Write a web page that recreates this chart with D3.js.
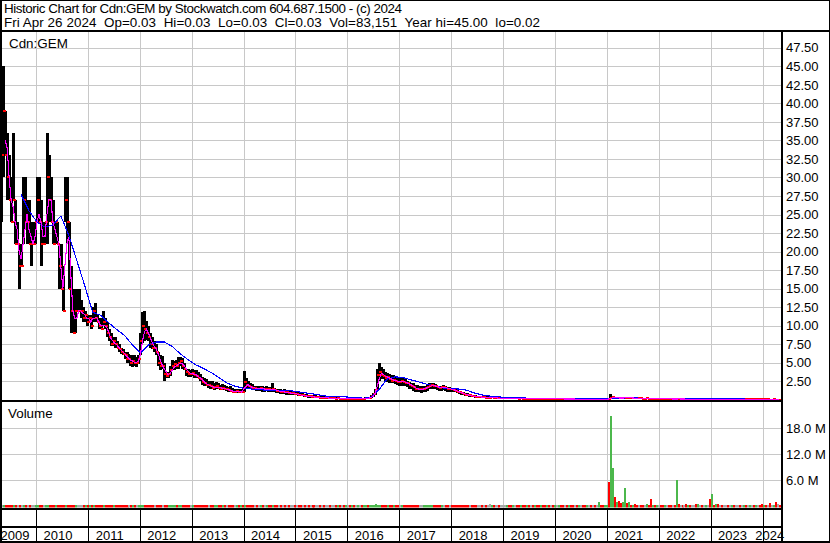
<!DOCTYPE html>
<html><head><meta charset="utf-8">
<script src="https://cdn.jsdelivr.net/npm/d3@7"></script>
<style>
html,body{margin:0;padding:0;background:#fff;}
svg{display:block;}
text{font-family:"Liberation Sans",Arial,sans-serif;fill:#000;}
</style></head><body>
<svg id="chart" width="830" height="543"></svg>
<script>
// ---- header / labels ----
const titleLine1 = "Historic Chart for Cdn:GEM by Stockwatch.com 604.687.1500 - (c) 2024";
const titleLine2 = "Fri Apr 26 2024  Op=0.03  Hi=0.03  Lo=0.03  Cl=0.03  Vol=83,151  Year hi=45.00  lo=0.02";
const symbolLabel = "Cdn:GEM";
const volumeLabel = "Volume";
const startDate = new Date(2009, 4, 1);   // first bi-weekly bar
const stepDays = 14;
const yearLabels = [2009,2010,2011,2012,2013,2014,2015,2016,2017,2018,2019,2020,2021,2022,2023,2024];
const priceTicks = [2.5,5,7.5,10,12.5,15,17.5,20,22.5,25,27.5,30,32.5,35,37.5,40,42.5,45,47.5];
const volumeTicks = [6,12,18]; // millions

// ---- bi-weekly bars (one row per year) ----
const closes = [
/*2009*/ 33,39,33,30,27,24,27,21,21,18,18,27,24,24,21,21,21,24,
/*2010*/ 27,24,21,21,24,30,27,24,21,24,21,18,15,12,27,24,15,12,9,12,12,12,12,11,11.5,10.5,
/*2011*/ 11,10,12,11,10.5,10,9.5,10.5,10,9,8.5,7.5,8,7.5,7,6.8,6.5,6.2,6,5.5,5.5,5,5.2,5,5,5.5,
/*2012*/ 8,10,9.5,9,8.5,7.5,7,7,6.5,5,4.5,4.5,3.5,3.2,3.5,4,4.5,4.8,4.5,5,5.2,4.5,4.2,3.8,3.5,3.5,
/*2013*/ 3.6,3.3,3.2,3,2.8,2.4,2.2,2,2,1.8,1.6,1.7,1.8,1.6,1.5,1.6,1.4,1.4,1.3,1.2,1.1,1.1,1.2,1,1.1,1,
/*2014*/ 2.4,2,1.8,1.7,1.6,1.6,1.5,1.5,1.6,1.4,1.4,1.5,1.4,1.3,1.5,1.3,1.2,1.2,1.1,1.1,1,1,.9,.9,.9,.8,
/*2015*/ .8,.7,.6,.6,.5,.5,.45,.45,.4,.35,.35,.35,.3,.3,.25,.25,.25,.2,.2,.2,.15,.2,.15,.15,.12,.15,
/*2016*/ .15,.12,.15,.12,.12,.15,.15,.12,.15,.25,.2,.25,.45,.8,1.3,3.3,3.8,3.4,3.2,3.0,3.1,2.8,2.6,2.7,2.5,2.4,2.4,
/*2017*/ 2.5,2.4,2.3,2.2,2.0,1.9,1.7,1.5,1.4,1.4,1.4,1.5,1.6,1.7,1.9,2.0,1.9,1.8,1.7,1.6,1.7,1.7,1.6,1.5,1.5,1.4,
/*2018*/ 1.3,1.2,1.1,1.0,.9,.8,.7,.6,.6,.5,.45,.4,.4,.4,.35,.35,.3,.3,.3,.35,.25,.25,.25,.2,.2,.2,
/*2019*/ .2,.22,.2,.18,.2,.2,.18,.17,.18,.16,.15,.16,.15,.15,.14,.15,.14,.13,.14,.13,.12,.13,.12,.12,.11,.12,
/*2020*/ .12,.13,.12,.11,.11,.10,.12,.11,.10,.10,.09,.10,.10,.09,.08,.09,.09,.08,.08,.07,.07,.09,.08,.07,.08,.09,
/*2021*/ .07,.30,.35,.25,.28,.24,.22,.25,.28,.25,.27,.24,.25,.22,.20,.20,.18,.16,.16,.18,.17,.14,.15,.14,.15,.15,
/*2022*/ .14,.13,.14,.14,.12,.11,.11,.10,.13,.11,.11,.10,.10,.09,.10,.09,.09,.09,.08,.09,.09,.08,.08,.09,.09,.07,
/*2023*/ .10,.09,.10,.09,.09,.08,.08,.08,.07,.07,.08,.07,.07,.07,.06,.06,.07,.06,.06,.07,.07,.06,.07,.07,.06,.05,
/*2024*/ .06,.05,.05,.04,.04,.05,.04,.04,.03
];
const highs = [
/*2009*/ 45,45,39,36,33,30,36,27,24,21,21,30,30,27,27,24,24,24,
/*2010*/ 30,30,27,24,24,36,33,30,27,24,24,21,21,18,30,30,24,18,15,15,15,15,13.5,12.5,12,11.5,
/*2011*/ 11.5,11.5,12.5,13,11.5,11,11,12,11,10.5,9.5,9,8.5,8.5,8,7.5,7,6.8,6.5,6.5,6.2,6.1,6,6,5.8,6,
/*2012*/ 9,11.9,12,10.6,10,9,8.5,8,7.5,6.4,6,5.9,5,3.8,3.8,4.5,5.4,5.2,5.4,5.8,5.8,5.6,5,4.2,4.2,4,
/*2013*/ 4.1,4,4,3.8,3.5,3.1,3,2.8,2.6,2.5,2.5,2.3,2.4,2.2,2,2.1,2,1.8,1.7,1.8,1.6,1.5,1.5,1.5,1.4,1.4,
/*2014*/ 3.9,2.9,2.5,2.2,2.1,1.9,1.9,1.8,1.9,1.8,1.7,1.8,1.7,1.7,2.2,1.6,1.5,1.4,1.4,1.3,1.4,1.3,1.2,1.2,1.1,1.1,
/*2015*/ 1.1,1,.9,.9,.8,.8,.7,.7,.65,.6,.6,.55,.5,.5,.45,.45,.4,.4,.35,.35,.3,.35,.3,.3,.25,.3,
/*2016*/ .3,.25,.25,.25,.25,.3,.3,.25,.3,.4,.35,.4,.6,.9,1.5,4.1,5.0,4.4,4.2,3.8,3.6,3.5,3.4,3.3,3.2,3.1,3.0,
/*2017*/ 2.9,3.0,2.8,2.6,2.4,2.3,2.2,2.0,2.0,1.9,1.8,1.8,1.9,2.0,2.2,2.3,2.2,2.1,1.9,1.8,1.9,2.0,1.8,1.7,1.7,1.6,
/*2018*/ 1.6,1.5,1.3,1.2,1.1,1.0,.9,.9,.8,.7,.6,.6,.55,.5,.5,.5,.45,.45,.4,.45,.4,.4,.35,.35,.3,.3,
/*2019*/ .28,.3,.27,.25,.27,.26,.24,.23,.24,.22,.2,.22,.2,.2,.19,.2,.19,.18,.19,.18,.17,.18,.16,.17,.15,.16,
/*2020*/ .17,.18,.16,.15,.16,.14,.2,.15,.14,.15,.13,.14,.15,.13,.12,.13,.14,.2,.12,.11,.1,.15,.12,.11,.12,.13,
/*2021*/ .12,.8,.5,.4,.38,.33,.3,.32,.36,.32,.33,.3,.3,.28,.26,.25,.23,.21,.2,.23,.21,.2,.19,.18,.19,.18,
/*2022*/ .18,.17,.18,.17,.2,.15,.14,.13,.17,.15,.14,.13,.13,.12,.13,.12,.12,.12,.11,.12,.12,.11,.11,.12,.12,.1,
/*2023*/ .13,.12,.13,.12,.12,.11,.11,.1,.1,.09,.1,.09,.09,.09,.08,.08,.09,.08,.08,.09,.09,.08,.09,.09,.08,.07,
/*2024*/ .08,.07,.07,.06,.06,.07,.06,.05,.03
];
const lows = [
/*2009*/ 24,30,33,27,27,24,27,21,21,15,18,21,24,21,21,18,21,21,
/*2010*/ 24,24,18,21,21,21,24,24,21,21,21,15,15,12,24,21,15,9,9,9,12,12,11,10.5,10.5,10,
/*2011*/ 10.5,9.5,10.5,10.5,10.5,9.5,9.5,10,9.5,8.5,8,7.3,7.3,7,7,6.5,6.2,6,5.5,5,4.9,4.6,4.4,4.5,4.4,4.8,
/*2012*/ 6.1,7.7,8,8.1,8,7,6.8,6.4,6,4.5,4,4.2,2.6,2.9,2.9,3.2,4,4,4.2,4.2,4.5,4.2,4,3.2,3.1,3.1,
/*2013*/ 3.2,3,2.9,2.9,2.5,2,1.8,1.8,1.6,1.5,1.4,1.3,1.5,1.4,1.3,1.3,1.3,1.2,1.1,1,1,.9,.9,.9,.9,.9,
/*2014*/ 1,1.5,1.5,1.4,1.4,1.3,1.2,1.2,1.2,1.1,1.1,1.2,1.1,1.1,1.1,1.0,.9,.9,.8,.8,.8,.7,.7,.7,.7,.6,
/*2015*/ .6,.5,.45,.45,.35,.35,.3,.3,.3,.25,.25,.25,.2,.2,.15,.15,.15,.12,.12,.12,.1,.1,.08,.08,.08,.08,
/*2016*/ .08,.08,.1,.08,.08,.1,.1,.08,.1,.15,.15,.15,.2,.4,.6,1.3,2.5,2.8,2.8,2.6,2.4,2.3,2.2,2.2,2.1,2.0,1.9,
/*2017*/ 1.9,1.8,1.8,1.7,1.5,1.4,1.2,1.0,1.0,1.0,0.9,1.0,1.1,1.2,1.4,1.5,1.5,1.4,1.3,1.2,1.2,1.3,1.2,1.1,1.1,1.1,
/*2018*/ 1.0,1.0,.9,.8,.7,.6,.5,.5,.4,.4,.35,.3,.3,.3,.25,.25,.25,.2,.2,.2,.2,.2,.15,.15,.15,.15,
/*2019*/ .14,.16,.15,.13,.14,.15,.13,.12,.13,.11,.1,.11,.1,.1,.09,.1,.09,.08,.09,.08,.08,.08,.08,.08,.07,.08,
/*2020*/ .08,.09,.08,.07,.07,.06,.08,.07,.06,.06,.05,.06,.06,.05,.05,.05,.06,.05,.05,.04,.04,.05,.05,.04,.05,.05,
/*2021*/ .05,.07,.22,.2,.2,.19,.18,.19,.22,.2,.21,.19,.19,.17,.16,.15,.14,.12,.12,.13,.13,.1,.11,.1,.11,.11,
/*2022*/ .11,.1,.11,.11,.09,.08,.08,.07,.09,.08,.08,.07,.07,.06,.07,.06,.06,.06,.05,.06,.06,.05,.05,.06,.06,.05,
/*2023*/ .07,.07,.07,.07,.07,.06,.06,.06,.05,.05,.06,.05,.05,.05,.04,.04,.05,.04,.04,.05,.05,.04,.05,.05,.04,.04,
/*2024*/ .04,.04,.04,.03,.03,.03,.03,.03,.03
];
const volumes = [ // millions of shares
/*2009*/ .05,.08,.06,.05,.04,.06,.05,.07,.04,.05,.06,.05,.04,.05,.06,.05,.04,.06,
/*2010*/ .05,.04,.06,.05,.04,.08,.06,.05,.04,.05,.04,.06,.05,.07,.06,.05,.08,.06,.05,.04,.05,.06,.05,.04,.05,.04,
/*2011*/ .05,.06,.05,.07,.04,.05,.06,.05,.04,.05,.06,.05,.04,.05,.06,.04,.05,.06,.05,.04,.05,.06,.05,.04,.05,.06,
/*2012*/ .1,.12,.08,.07,.06,.05,.06,.05,.07,.06,.1,.06,.05,.06,.07,.06,.05,.06,.05,.06,.05,.04,.05,.06,.05,.04,
/*2013*/ .05,.06,.05,.07,.06,.05,.06,.07,.06,.05,.06,.07,.06,.05,.06,.05,.06,.05,.06,.05,.06,.05,.06,.05,.06,.05,
/*2014*/ .15,.1,.08,.06,.07,.06,.05,.06,.07,.06,.05,.06,.05,.06,.1,.06,.05,.06,.05,.06,.07,.06,.05,.06,.05,.06,
/*2015*/ .06,.07,.06,.08,.07,.06,.08,.07,.06,.08,.07,.06,.08,.07,.06,.07,.08,.06,.07,.08,.06,.07,.06,.08,.07,.06,
/*2016*/ .07,.06,.08,.07,.06,.07,.08,.06,.07,.1,.08,.1,.2,.3,.5,.4,.3,.3,.2,.25,.2,.15,.2,.15,.18,.15,.12,
/*2017*/ .12,.1,.12,.1,.12,.1,.12,.15,.12,.1,.12,.15,.2,.25,.2,.15,.12,.15,.12,.4,.2,.15,.12,.1,.12,.1,
/*2018*/ .1,.12,.1,.12,.1,.12,.1,.12,.15,.12,.15,.12,.15,.2,.15,.12,.2,.15,.6,.2,.15,.12,.15,.12,.1,.12,
/*2019*/ .1,.12,.15,.12,.1,.15,.2,.15,.12,.15,.1,.12,.15,.2,.15,.12,.15,.1,.15,.12,.2,.15,.12,.15,.2,.15,
/*2020*/ .15,.2,.15,.2,.15,.25,.2,.15,.2,.25,.2,.3,.25,.2,.3,.2,.25,.3,.2,.3,.25,1.06,.3,.3,.4,.4,
/*2021*/ 5.7,20.9,8.8,2.2,1.0,1.2,.8,.9,4.15,.8,.9,.4,.3,.5,.4,.3,.3,.2,.2,.6,.3,1.7,.3,.3,.3,.2,
/*2022*/ .2,.3,.2,.2,.4,.4,.2,.3,6.1,.6,.3,.3,.3,.6,.4,.3,.2,.2,.5,.6,.3,.2,.2,.3,.2,1.7,
/*2023*/ 2.8,.4,.6,.5,.4,.3,.2,.2,.2,.4,.2,.3,.4,.2,.2,.2,.2,.2,.3,.3,.2,.3,.3,.3,.2,.6,
/*2024*/ .4,.3,.4,.8,.3,.4,1.1,.5,.4
];

// ---- long moving average (blue), every 4th bar starting at bar 10 ----
const longMAStart = 10, longMAStep = 4;
const longMA = [
 27.7,25.5,24,23.3,23.6,24.8,22.2,18.8,15.4,11.8,
 11.4,10.4,9.5,8.7,7.4,6.3,7.4,7.8,7.8,7.2,
 6.2,5.4,4.7,4.2,3.6,2.9,2.2,1.8,1.55,1.45,
 1.35,1.3,1.3,1.3,1.2,1.05,.9,.75,.55,.42,
 .42,.38,.3,.22,.3,1.4,2.8,3.1,3.0,2.7,
 2.4,2.1,1.9,1.6,1.5,1.45,1.3,.9,.65,.5,
 .4,.32,.28,.25,.22,.2,.2,.18,.16,.15,
 .14,.13,.12,.12,.14,.22,.25,.25,.22,.2,
 .18,.16,.15,.14,.13,.13,.12,.12,.12,.11,
 .11,.1,.1,.1,.1,.1
];
// short moving average (magenta): 3-bar average of closes
const shortMAPeriod = 3;

// ---- drawing ----
const svg = d3.select("#chart");
const W = 830, H = 543;
const plotL = 2, plotR = 781;
const priceTop = 31.5, priceBot = 400, volTop = 402, volBot = 507.5;
const fs = 13, fsHead = 13.4;
const FONT = '"Liberation Sans",Arial,sans-serif';

const dates = closes.map((_, i) => d3.timeDay.offset(startDate, stepDays * i));
const x = d3.scaleTime().domain([new Date(2010,0,1), new Date(2024,0,1)]).range([36, 762.5]);
const y = d3.scaleLinear().domain([0, 47.5]).range([399.8, 47.8]);
const yv = d3.scaleLinear().domain([0, 18]).range([506.3, 428.3]);

svg.append("rect").attr("width", W).attr("height", H).attr("fill", "#fff");

const defs = svg.append("defs");
defs.append("clipPath").attr("id","clipP").append("rect")
  .attr("x", plotL).attr("y", priceTop).attr("width", plotR - plotL).attr("height", priceBot - priceTop);
defs.append("clipPath").attr("id","clipV").append("rect")
  .attr("x", plotL).attr("y", volTop).attr("width", plotR - plotL).attr("height", volBot - volTop);

const yearStarts = d3.timeYear.range(new Date(2010,0,1), new Date(2024,0,2));
const grid = svg.append("g").attr("stroke", "#c8c8c8").attr("stroke-width", 1).attr("shape-rendering","crispEdges");
grid.selectAll("line.vp").data(yearStarts).join("line").attr("class","vp")
  .attr("x1", d => Math.round(x(d)) + 0.5).attr("x2", d => Math.round(x(d)) + 0.5)
  .attr("y1", priceTop).attr("y2", priceBot);
grid.selectAll("line.vv").data(yearStarts).join("line").attr("class","vv")
  .attr("x1", d => Math.round(x(d)) + 0.5).attr("x2", d => Math.round(x(d)) + 0.5)
  .attr("y1", volTop).attr("y2", volBot);
grid.selectAll("line.hp").data(priceTicks).join("line").attr("class","hp")
  .attr("x1", plotL).attr("x2", plotR)
  .attr("y1", d => Math.round(y(d)) + 0.5).attr("y2", d => Math.round(y(d)) + 0.5);
grid.selectAll("line.hv").data(volumeTicks).join("line").attr("class","hv")
  .attr("x1", plotL).attr("x2", plotR)
  .attr("y1", d => Math.round(yv(d)) + 0.5).attr("y2", d => Math.round(yv(d)) + 0.5);

// price bars: black high-low bar, red open (left) and close (right) ticks
const pg = svg.append("g").attr("clip-path", "url(#clipP)").attr("shape-rendering","crispEdges");
const idx = d3.range(closes.length);
pg.selectAll("rect.hl").data(idx).join("rect").attr("class","hl")
  .attr("x", i => Math.round(x(dates[i])) - 1).attr("width", 3)
  .attr("y", i => Math.round(y(highs[i])))
  .attr("height", i => Math.max(1, Math.round(y(lows[i])) - Math.round(y(highs[i]))))
  .attr("fill", "#000");
pg.selectAll("rect.op").data(idx.slice(1)).join("rect").attr("class","op")
  .attr("x", i => Math.round(x(dates[i])) - 2).attr("width", 2)
  .attr("y", i => Math.round(y(closes[i-1])) - 1).attr("height", 2)
  .attr("fill", "#ff0000");
pg.selectAll("rect.cl").data(idx).join("rect").attr("class","cl")
  .attr("x", i => Math.round(x(dates[i])) + 1).attr("width", 2)
  .attr("y", i => Math.round(y(closes[i])) - 1).attr("height", 2)
  .attr("fill", "#ff0000");

const shortMA = d3.range(shortMAPeriod - 1, closes.length)
  .map(i => ({i, v: d3.mean(closes.slice(i - shortMAPeriod + 1, i + 1))}));
const longMApts = longMA.map((v, k) => ({i: longMAStart + k * longMAStep, v}));
const line = d3.line().x(d => x(dates[d.i])).y(d => y(d.v));
pg.append("path").datum(longMApts).attr("d", line)
  .attr("fill", "none").attr("stroke", "#0000ff").attr("stroke-width", 1.1);
pg.append("path").datum(shortMA).attr("d", line)
  .attr("fill", "none").attr("stroke", "#ff00ff").attr("stroke-width", 1.1);

// volume bars
const vg = svg.append("g").attr("clip-path", "url(#clipV)").attr("shape-rendering","crispEdges");
const volColor = i => i === 0 || closes[i] === closes[i-1] ? "#a8a8a8" : (closes[i] > closes[i-1] ? "#4cb84c" : "#ff0000");
vg.selectAll("rect").data(idx).join("rect")
  .attr("x", i => Math.round(x(dates[i]))).attr("width", 2)
  .attr("y", i => Math.min(Math.round(yv(volumes[i])), 505))
  .attr("height", i => 507.5 - Math.min(Math.round(yv(volumes[i])), 505))
  .attr("fill", i => volColor(i));

// frame lines
const fr = svg.append("g").attr("fill", "#000").attr("shape-rendering","crispEdges");
fr.append("rect").attr("x", 0).attr("y", 0).attr("width", W).attr("height", 1);
fr.append("rect").attr("x", 0).attr("y", 0).attr("width", 2).attr("height", H);
fr.append("rect").attr("x", 0).attr("y", 29.5).attr("width", W).attr("height", 2);
fr.append("rect").attr("x", 781).attr("y", 29.5).attr("width", 2).attr("height", H - 29.5);
fr.append("rect").attr("x", 0).attr("y", 400).attr("width", 783).attr("height", 2);
fr.append("rect").attr("x", 0).attr("y", 507.5).attr("width", 783).attr("height", 2);
fr.append("rect").attr("x", 0).attr("y", 526).attr("width", 783).attr("height", 2);
fr.append("rect").attr("x", 0).attr("y", 541).attr("width", W).attr("height", 2);
fr.append("rect").attr("x", W - 1).attr("y", 0).attr("width", 1).attr("height", H);
fr.selectAll("rect.ys").data(yearStarts).join("rect").attr("class","ys")
  .attr("x", d => Math.round(x(d))).attr("width", 1)
  .attr("y", 509).attr("height", 32);

// texts
const t = svg.append("g").attr("font-size", fs);
t.append("text").attr("x", 4).attr("y", 13).attr("font-size", fsHead)
  .attr("textLength", 398).attr("lengthAdjust", "spacing").text(titleLine1);
t.append("text").attr("x", 4).attr("y", 27).attr("font-size", fsHead)
  .attr("xml:space","preserve").style("white-space","pre")
  .attr("textLength", 536).attr("lengthAdjust", "spacing").text(titleLine2);
t.append("text").attr("x", 9).attr("y", 48).attr("font-size", fsHead).text(symbolLabel);
t.append("text").attr("x", 8).attr("y", 418).attr("font-size", fsHead).text(volumeLabel);

// right price axis
const pAxis = d3.axisRight(y).tickValues(priceTicks).tickSize(0).tickPadding(3).tickFormat(d3.format(".2f"));
const pa = svg.append("g").attr("transform", "translate(783,0)").call(pAxis);
pa.select(".domain").remove();
pa.selectAll("text").attr("font-size", fs).attr("font-family", FONT).attr("fill","#000");

const vAxis = d3.axisRight(yv).tickValues(volumeTicks).tickSize(0).tickPadding(3).tickFormat(d => d.toFixed(1) + " M");
const va = svg.append("g").attr("transform", "translate(783,0)").call(vAxis);
va.select(".domain").remove();
va.selectAll("text").attr("font-size", fs).attr("font-family", FONT).attr("fill","#000");

// year labels in their (clipped) year cell
t.selectAll("text.yr").data(yearLabels).join("text").attr("class","yr")
  .attr("x", yr => {
    const a = Math.max(plotL, x(new Date(yr,0,1))), b = Math.min(plotR, x(new Date(yr+1,0,1)));
    return (a + b) / 2 - (b - a > 30 ? 4 : 2);
  })
  .attr("y", 540).attr("text-anchor", "middle").text(yr => yr);
</script>
</body></html>
